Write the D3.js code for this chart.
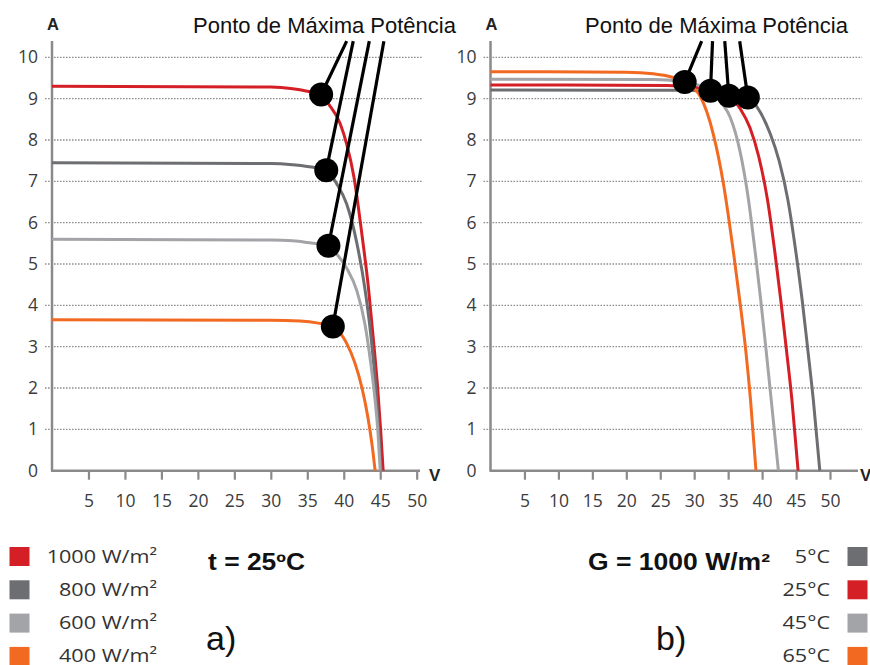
<!DOCTYPE html>
<html>
<head>
<meta charset="utf-8">
<script src="https://cdn.jsdelivr.net/npm/d3@7"></script>
<style>
  html, body { margin: 0; padding: 0; background: #fff; }
  svg { display: block; }
</style>
</head>
<body>
<svg id="chart" width="870" height="665"></svg>
<script>
// ---------------- DATA ----------------
const xTicks = [5, 10, 15, 20, 25, 30, 35, 40, 45, 50];
const yTicks = [0, 1, 2, 3, 4, 5, 6, 7, 8, 9, 10];

// a) irradiance series at t = 25 ºC  (points: [V, A])
const irradianceLabels = ["1000 W/m²", "800 W/m²", "600 W/m²", "400 W/m²"];
const curve1000 = [[0,9.3],[30,9.28],[33,9.24],[35,9.18],[36.9,9.1],[38,8.85],[39.5,8.4],[40.4,7.9],[41.4,7.1],[42.5,5.7],[43.4,4.4],[44.1,3.1],[44.65,2.0],[45.05,1.0],[45.4,0]];
const curve800  = [[0,7.45],[30,7.43],[33,7.4],[35,7.36],[37.6,7.27],[39,6.95],[40.4,6.45],[41.8,5.5],[42.9,4.4],[43.7,3.3],[44.3,2.2],[44.75,1.1],[45.1,0]];
const curve600  = [[0,5.6],[30,5.58],[33,5.56],[35,5.52],[37.9,5.44],[39,5.25],[40.4,4.9],[41.8,4.35],[42.9,3.55],[43.7,2.6],[44.3,1.7],[44.7,0.9],[45.0,0]];
const curve400  = [[0,3.65],[30,3.64],[34,3.62],[36.5,3.57],[38.5,3.49],[39.5,3.33],[40.4,3.08],[41.5,2.62],[42.5,2.0],[43.3,1.3],[43.9,0.6],[44.3,0]];
const mppIrradiance = [[36.9,9.1],[37.6,7.27],[37.9,5.44],[38.5,3.49]];
const leaderTopIrradiance = [40.4, 41.3, 43.5, 45.5];

// b) temperature series at G = 1000 W/m²
const temperatureLabels = ["5°C", "25°C", "45°C", "65°C"];
const curve5  = [[0,9.21],[28,9.2],[32,9.17],[35,9.12],[37.9,9.03],[39.8,8.65],[41.2,8.15],[42.5,7.5],[43.8,6.55],[45.0,5.26],[45.9,4.13],[46.75,2.9],[47.55,1.7],[48.5,0]];
const curve25 = [[0,9.33],[26,9.32],[30,9.28],[33,9.2],[35.1,9.07],[36.8,8.75],[38.2,8.3],[39.5,7.6],[40.8,6.55],[41.9,5.26],[42.75,4.13],[43.6,2.9],[44.4,1.7],[45.3,0]];
const curve45 = [[0,9.47],[24,9.46],[28,9.42],[30.5,9.33],[32.4,9.19],[34,8.9],[35.3,8.55],[36.7,7.76],[38.0,6.55],[39.0,5.26],[39.8,4.13],[40.6,2.9],[41.35,1.7],[42.4,0]];
const curve65 = [[0,9.65],[20,9.64],[24,9.6],[26.5,9.53],[28.6,9.4],[30.9,9.05],[32.8,8.15],[34.3,6.95],[35.8,5.26],[36.7,4.13],[37.6,2.9],[38.3,1.7],[39.1,0]];
const mppTemperature = [[37.9,9.03],[35.1,9.07],[32.4,9.19],[28.6,9.4]];
const leaderTopTemperature = [36.7, 34.5, 32.7, 31.1];
const leaderTopCurrent = 10.39;

const mppLabel = "Ponto de Máxima Potência";

// ---------------- STYLE ----------------
const RED = "#d41f26", DARK = "#6d6e72", LIGHT = "#a3a4a7", ORANGE = "#f26a21";
const irradianceColors = [RED, DARK, LIGHT, ORANGE];
const temperatureColors = [DARK, RED, LIGHT, ORANGE];
const AXIS = "#8a8a8a";
const TICKFONT = "'Open Sans', 'Noto Sans', sans-serif";

const svg = d3.select("#chart");
svg.append("rect").attr("width", 870).attr("height", 665).attr("fill", "#fff");

const y = d3.scaleLinear().domain([0, 10]).range([470.7, 57.3]);

function panel(opts) {
  const x = d3.scaleLinear().domain([0, 50]).range(opts.xRange);
  const g = svg.append("g");
  const x0 = opts.xRange[0];

  // gridlines
  g.append("g").selectAll("line").data(yTicks.filter(d => d > 0)).join("line")
    .attr("x1", x0 - 7).attr("x2", opts.gridEnd)
    .attr("y1", d => y(d)).attr("y2", d => y(d))
    .attr("stroke", "#8f8f8f").attr("stroke-width", 1.3)
    .attr("stroke-dasharray", "1.6,1.4");

  // y axis labels
  const ya = g.append("g").attr("transform", `translate(${x0},0)`)
    .call(d3.axisLeft(y).tickValues(yTicks).tickSize(0).tickPadding(14));
  ya.select(".domain").remove();
  ya.selectAll("text").attr("font-family", TICKFONT).attr("font-size", 17.5)
    .attr("fill", "#3b3b3b");

  // x axis
  const xa = g.append("g").attr("transform", `translate(0,${y(0)})`)
    .call(d3.axisBottom(x).tickValues(xTicks).tickSize(9).tickPadding(15).tickSizeOuter(0));
  xa.select(".domain").remove();
  xa.selectAll("line").attr("stroke", AXIS).attr("stroke-width", 2.2);
  xa.selectAll("text").attr("font-family", TICKFONT).attr("font-size", 17.5)
    .attr("fill", "#3b3b3b");

  // axis lines
  g.append("line").attr("x1", x0).attr("x2", x0).attr("y1", 41).attr("y2", y(0))
    .attr("stroke", AXIS).attr("stroke-width", 2.5);
  g.append("line").attr("x1", x0 - 1).attr("x2", opts.axisEnd).attr("y1", y(0)).attr("y2", y(0))
    .attr("stroke", AXIS).attr("stroke-width", 2.5);

  // unit labels
  g.append("text").attr("x", x0 - 5).attr("y", 30).text("A")
    .attr("font-family", "'Liberation Sans', Arial, sans-serif").attr("font-weight", "bold")
    .attr("font-size", 16.5).attr("fill", "#222");
  g.append("text").attr("x", opts.vX).attr("y", y(0) + 10).text("V")
    .attr("font-family", "'Liberation Sans', Arial, sans-serif").attr("font-weight", "bold")
    .attr("font-size", 17).attr("fill", "#222");

  // curves
  const line = d3.line().x(d => x(d[0])).y(d => y(d[1])).curve(d3.curveMonotoneX);
  g.append("g").selectAll("path").data(opts.curves).join("path")
    .attr("d", line).attr("fill", "none")
    .attr("stroke", (d, i) => opts.colors[i]).attr("stroke-width", 3);

  // leaders
  g.append("g").selectAll("line").data(opts.mpp).join("line")
    .attr("x1", d => x(d[0])).attr("y1", d => y(d[1]))
    .attr("x2", (d, i) => x(opts.tops[i])).attr("y2", y(leaderTopCurrent))
    .attr("stroke", "#000").attr("stroke-width", 3.2);
  g.append("g").selectAll("circle").data(opts.mpp).join("circle")
    .attr("cx", d => x(d[0])).attr("cy", d => y(d[1])).attr("r", 12).attr("fill", "#000");

  // top label
  g.append("text").attr("x", opts.labelX).attr("y", 33).text(mppLabel)
    .attr("font-family", "'Liberation Sans', Arial, sans-serif").attr("font-size", 22)
    .attr("fill", "#111");

  return g;
}

panel({
  xRange: [52, 416.7], gridEnd: 423, axisEnd: 420, vX: 429,
  curves: [curve1000, curve800, curve600, curve400], colors: irradianceColors,
  mpp: mppIrradiance, tops: leaderTopIrradiance, labelX: 193
});
panel({
  xRange: [490.5, 830], gridEnd: 862, axisEnd: 858, vX: 860,
  curves: [curve5, curve25, curve45, curve65], colors: temperatureColors,
  mpp: mppTemperature, tops: leaderTopTemperature, labelX: 585
});

// legends
const LEGFONT = "'Open Sans', 'Noto Sans', sans-serif";
const rowY = i => 547 + i * 33.3;
function legendText(g, x, yy, lab) {
  g.append("text").attr("transform", `translate(${x},${yy}) scale(1.2,1)`)
    .attr("text-anchor", "end")
    .attr("font-family", LEGFONT).attr("font-size", 18).attr("fill", "#333").text(lab);
}
const legL = svg.append("g");
irradianceLabels.forEach((lab, i) => {
  legL.append("rect").attr("x", 9.5).attr("y", rowY(i)).attr("width", 20).attr("height", 19)
    .attr("fill", irradianceColors[i]);
  legendText(legL, 157, rowY(i) + 15.5, lab);
});
const legR = svg.append("g");
temperatureLabels.forEach((lab, i) => {
  legR.append("rect").attr("x", 847.5).attr("y", rowY(i)).attr("width", 20).attr("height", 19)
    .attr("fill", temperatureColors[i]);
  legendText(legR, 830, rowY(i) + 15.5, lab);
});

// condition titles
const BOLD = "'Liberation Sans', Arial, sans-serif";
svg.append("text").attr("x", 208).attr("y", 570).text("t = 25ºC")
  .attr("font-family", BOLD).attr("font-weight", "bold").attr("font-size", 23)
  .attr("textLength", 97).attr("lengthAdjust", "spacingAndGlyphs").attr("fill", "#111");
svg.append("text").attr("x", 588).attr("y", 570).text("G = 1000 W/m²")
  .attr("font-family", BOLD).attr("font-weight", "bold").attr("font-size", 23)
  .attr("textLength", 182).attr("lengthAdjust", "spacingAndGlyphs").attr("fill", "#111");
svg.append("text").attr("x", 206).attr("y", 650).text("a)")
  .attr("font-family", BOLD).attr("font-size", 34).attr("fill", "#111");
svg.append("text").attr("x", 656).attr("y", 650).text("b)")
  .attr("font-family", BOLD).attr("font-size", 34).attr("fill", "#111");
</script>
</body>
</html>
